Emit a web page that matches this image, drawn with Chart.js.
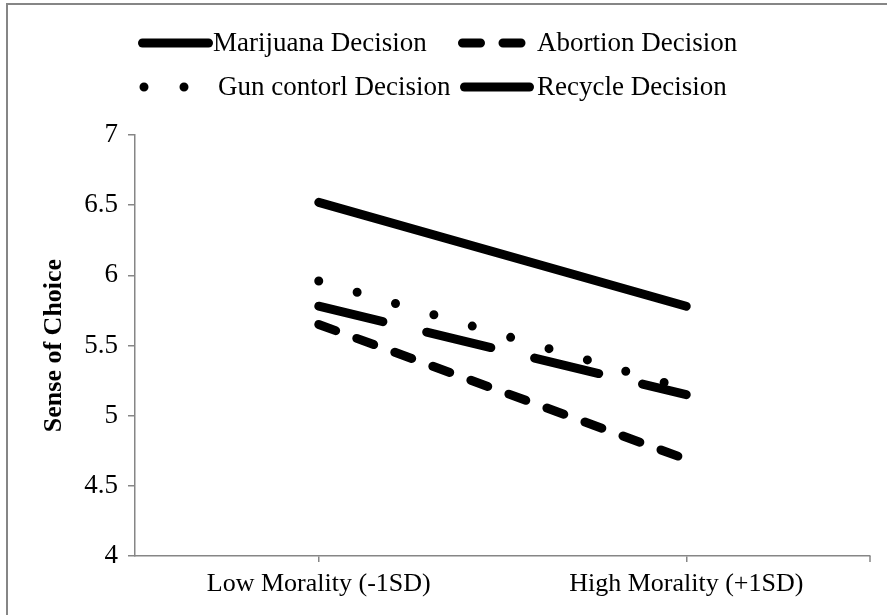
<!DOCTYPE html>
<html><head><meta charset="utf-8">
<script src="https://cdn.jsdelivr.net/npm/chart.js@4/dist/chart.umd.min.js"></script>
<style>html,body{margin:0;padding:0;background:#fff}#wrap{width:887px;height:615px;position:relative}canvas{display:block}</style>
</head><body><div id="wrap"><canvas id="c" width="887" height="615"></canvas></div>
<script>
const categories = ['Low Morality (-1SD)', 'High Morality (+1SD)'];
const marijuana = [6.52, 5.78];
const abortion = [5.65, 4.69];
const gunControl = [5.96, 5.19];
const recycle = [5.78, 5.15];
const yTicks = [4, 4.5, 5, 5.5, 6, 6.5, 7];
const seriesNames = ['Marijuana Decision', 'Abortion Decision', 'Gun contorl Decision', 'Recycle Decision'];
const yTitle = 'Sense of Choice';

const FONT = "'Liberation Serif', 'Times New Roman', serif";
const AXIS = '#868686';
const LW = 9;

const styles = [
  {borderDash: []},
  {borderDash: [18, 22.5]},
  {borderDash: [0, 40]},
  {borderDash: [66, 45]}
];
const seriesData = [marijuana, abortion, gunControl, recycle];

const datasets = seriesData.map((d, i) => ({
  label: seriesNames[i],
  data: d,
  borderColor: '#000',
  backgroundColor: '#000',
  borderWidth: LW,
  borderDash: styles[i].borderDash,
  borderCapStyle: 'round',
  borderJoinStyle: 'round',
  pointRadius: 0,
  pointHoverRadius: 0,
  tension: 0,
  fill: false
}));

// legend layout (positions only)
const legendSlots = [
  {x0: 138, x1: 213, y: 43, tx: 213},
  {x0: 458, x1: 530, y: 43, tx: 537},
  {x0: 139.5, x1: 189, y: 87, tx: 218},
  {x0: 460, x1: 534, y: 87, tx: 537}
];

const decorPlugin = {
  id: 'decor',
  beforeDraw(chart) {
    const ctx = chart.ctx;
    ctx.save();
    ctx.strokeStyle = AXIS;
    ctx.lineWidth = 2;
    ctx.strokeRect(7, 4, 1000, 1000);
    ctx.restore();
  },
  afterDraw(chart) {
    const ctx = chart.ctx;
    const xs = chart.scales.x;
    ctx.save();
    // right-end tick on category axis
    ctx.strokeStyle = AXIS;
    ctx.lineWidth = 1.5;
    ctx.beginPath();
    ctx.moveTo(xs.right, xs.top);
    ctx.lineTo(xs.right, xs.top + 6);
    ctx.stroke();
    // legend
    chart.data.datasets.forEach((ds, i) => {
      const s = legendSlots[i];
      const r = ds.borderWidth / 2;
      ctx.strokeStyle = ds.borderColor;
      ctx.lineWidth = ds.borderWidth;
      ctx.lineCap = ds.borderCapStyle;
      ctx.setLineDash(ds.borderDash || []);
      ctx.beginPath();
      ctx.moveTo(s.x0 + r, s.y);
      ctx.lineTo(s.x1 - r, s.y);
      ctx.stroke();
      ctx.setLineDash([]);
      ctx.fillStyle = '#000';
      ctx.font = '27px ' + FONT;
      ctx.textBaseline = 'middle';
      ctx.textAlign = 'left';
      ctx.fillText(ds.label, s.tx, s.y + 1);
    });
    ctx.restore();
  }
};

new Chart(document.getElementById('c'), {
  type: 'line',
  data: {labels: categories, datasets: datasets},
  options: {
    responsive: false,
    animation: false,
    devicePixelRatio: 1,
    layout: {padding: {top: 135, right: 17, bottom: 0, left: 0}},
    plugins: {legend: {display: false}, tooltip: {enabled: false}},
    scales: {
      x: {
        type: 'category',
        offset: true,
        grid: {display: true, drawOnChartArea: false, drawTicks: true, tickLength: 6, color: AXIS, lineWidth: 1.5, offset: false},
        border: {display: true, color: AXIS, width: 1.5},
        ticks: {color: '#000', font: {family: FONT, size: 26}, padding: 7, maxRotation: 0, autoSkip: false},
        afterFit(scale) { scale.height = 59; }
      },
      y: {
        min: 4, max: 7,
        afterBuildTicks(scale) { scale.ticks = yTicks.map(v => ({value: v})); },
        grid: {display: true, drawOnChartArea: false, drawTicks: true, tickLength: 7, color: AXIS, lineWidth: 1.5},
        border: {display: true, color: AXIS, width: 1.5},
        ticks: {color: '#000', font: {family: FONT, size: 27}, padding: 10, callback: v => String(v)},
        title: {display: true, text: yTitle, color: '#000', font: {family: FONT, size: 26, weight: 'bold'}, padding: {top: 39, bottom: 0}},
        afterFit(scale) { scale.width = 135; }
      }
    }
  },
  plugins: [decorPlugin]
});
</script>
</body></html>
